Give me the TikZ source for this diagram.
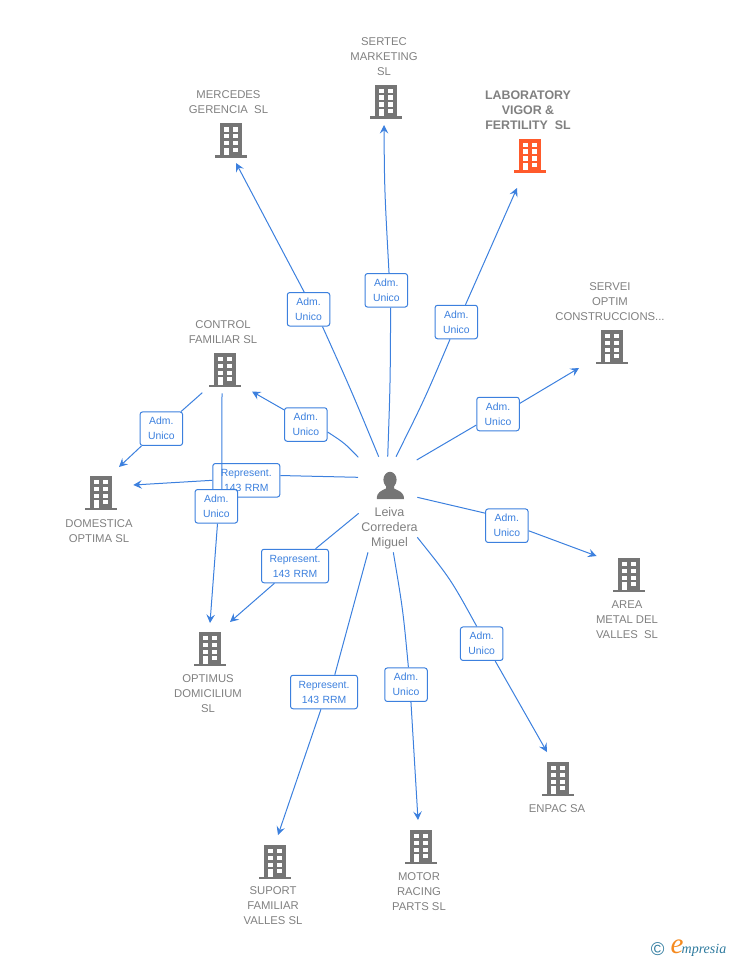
\documentclass[tikz,border=0pt]{standalone}
\usepackage{fontspec}
\setmainfont{Liberation Sans}
\newfontfamily\logofont{Liberation Serif}
\usetikzlibrary{arrows.meta}
\definecolor{edgeblue}{HTML}{3C80DE}
\definecolor{txtgray}{HTML}{808080}
\definecolor{iconcol}{HTML}{757575}
\definecolor{hotcol}{HTML}{FF5A2B}
\definecolor{logoblue}{HTML}{2E7A9E}
\definecolor{logoorange}{HTML}{F58A1F}
\pgfdeclarelayer{edges}\pgfdeclarelayer{rep}\pgfdeclarelayer{cross}
\pgfsetlayers{edges,rep,cross,main}
\newcommand{\admtxt}{Adm.\hspace*{3pt}\\Unico}
\newcommand{\reptxt}{Represent.\\143 RRM}
\tikzset{
  pics/bldg/.style={code={
    \fill[#1] (-11,-17) rectangle (11,14.5);
    \fill[#1] (-16,14.5) rectangle (16,17.2);
    \foreach \yy in {-13.2,-6.5,0.5}{
      \fill[white] (-6.8,\yy) rectangle (-2,\yy+4.3);
      \fill[white] (2.3,\yy) rectangle (7.2,\yy+4.3);
    }
    \fill[white] (-6.8,7.2) rectangle (-2,14.5);
    \fill[white] (2.3,7.2) rectangle (7.2,11.4);
  }},
  spot/.style={inner sep=0pt,minimum width=32pt,minimum height=35pt},
  coname/.style={text=txtgray,align=center,inner sep=0pt,font=\fontsize{11.3}{15}\selectfont},
  boldname/.style={coname,font=\fontsize{12.4}{15}\selectfont\bfseries},
  tagbox/.style={draw=edgeblue,fill=white,text=edgeblue,rounded corners=2.5pt,line width=1pt,
    align=center,inner sep=0pt,minimum width=42.5pt,minimum height=33.5pt,text width=42.5pt,
    font=\fontsize{10.4}{15}\selectfont},
  widetag/.style={tagbox,minimum width=67pt,text width=67pt},
  conn/.style={draw=edgeblue,line width=1pt},
  arr/.style={conn,-{Stealth[length=8.5pt,width=8.5pt,inset=3.2pt]}}
}
\begin{document}
\begin{tikzpicture}[x=1pt,y=-1pt]
\useasboundingbox (0,0) rectangle (728,960);
% company buildings
\node[spot] (mer) at (231,140.5) {}; \pic at (mer) {bldg=iconcol};
\node[spot] (ser) at (386,102) {}; \pic at (ser) {bldg=iconcol};
\node[spot] (lab) at (530,156) {}; \pic at (lab) {bldg=hotcol};
\node[spot] (svi) at (612,347) {}; \pic at (svi) {bldg=iconcol};
\node[spot] (ctl) at (225,370) {}; \pic at (ctl) {bldg=iconcol};
\node[spot] (dom) at (101,493) {}; \pic at (dom) {bldg=iconcol};
\node[spot] (are) at (629,575) {}; \pic at (are) {bldg=iconcol};
\node[spot] (opt) at (210,649) {}; \pic at (opt) {bldg=iconcol};
\node[spot] (enp) at (558,779) {}; \pic at (enp) {bldg=iconcol};
\node[spot] (mot) at (421,847) {}; \pic at (mot) {bldg=iconcol};
\node[spot] (sup) at (275,862) {}; \pic at (sup) {bldg=iconcol};
% company names
\node[coname] (merT) at (228.5,101.8) {MERCEDES\\GERENCIA\ \ SL};
\node[coname] (serT) at (384,56.7) {SERTEC\\MARKETING\\SL};
\node[boldname] (labT) at (528,110.7) {LABORATORY\\VIGOR \&\\FERTILITY\ \ SL};
\node[coname] (sviT) at (610,301.7) {SERVEI\\OPTIM\\CONSTRUCCIONS...};
\node[coname] (ctlT) at (223,331.8) {CONTROL\\FAMILIAR SL};
\node[coname] (domT) at (99,530.7) {DOMESTICA\\OPTIMA SL};
\node[coname] (areT) at (627,619.7) {AREA\\METAL DEL\\VALLES\ \ SL};
\node[coname] (optT) at (208,693.7) {OPTIMUS\\DOMICILIUM\\SL};
\node[coname] (enpT) at (557,808.7) {ENPAC SA};
\node[coname] (motT) at (419,891.7) {MOTOR\\RACING\\PARTS SL};
\node[coname] (supT) at (273,905.7) {SUPORT\\FAMILIAR\\VALLES SL};
% person
\node[inner sep=0pt,minimum width=30pt,minimum height=30pt] (per) at (390,486) {};
\fill[iconcol] (390,479.8) ellipse (6.6 and 8);
\fill[iconcol] (376.8,499) .. controls (376.8,492) and (381,491) .. (386,488.5)
  -- (386,484) -- (394,484) -- (394,488.5)
  .. controls (399,491) and (404,492) .. (404,499) -- cycle;
\node[coname,font=\fontsize{12.5}{15}\selectfont] (perT) at (389.5,528.5) {Leiva\\Corredera\\Miguel};
% tags
\node[tagbox] (t1) at (308.5,309.3) {\admtxt};
\node[tagbox] (t2) at (386.3,290.3) {\admtxt};
\node[tagbox] (t3) at (456.3,322) {\admtxt};
\node[tagbox] (t4) at (498,414) {\admtxt};
\node[tagbox] (t5) at (305.8,424.5) {\admtxt};
\node[tagbox] (t6) at (161.3,428.7) {\admtxt};
\begin{pgfonlayer}{rep}
\node[widetag] (t7) at (246.3,480.3) {\reptxt};
\end{pgfonlayer}
\node[tagbox] (t8) at (216.3,506.3) {\admtxt};
\node[widetag] (t9) at (295,566) {\reptxt};
\node[tagbox] (t10) at (506.8,525.7) {\admtxt};
\node[tagbox] (t11) at (481.7,643.7) {\admtxt};
\node[tagbox] (t12) at (406,684.7) {\admtxt};
\node[widetag] (t13) at (324,692) {\reptxt};
% free ends of connectors
\coordinate (s1) at (378.7,456.7);  \coordinate (e1) at (236,163);
\coordinate (s2) at (387.7,456.7);  \coordinate (e2) at (384,125);
\coordinate (s3) at (396,456.7);    \coordinate (e3) at (517,188);
\coordinate (s4) at (416.7,460);    \coordinate (e4) at (579,368);
\coordinate (s5) at (358.3,457.3);  \coordinate (e5) at (252,391.5);
\coordinate (s6) at (202.3,392.7);  \coordinate (e6) at (119,467);
\coordinate (s7) at (358,477.3);    \coordinate (e7) at (133.3,485);
\coordinate (s8) at (222,393.3);    \coordinate (e8) at (210,623);
\coordinate (s9) at (358.7,513.3);  \coordinate (e9) at (230,622);
\coordinate (s10) at (417.3,497.3); \coordinate (e10) at (596.5,556);
\coordinate (s11) at (417.3,537.3); \coordinate (e11) at (547,752);
\coordinate (s12) at (393.3,552.3); \coordinate (e12) at (418,820);
\coordinate (s13) at (368,552.3);   \coordinate (e13) at (278,835);
\begin{pgfonlayer}{edges}
\draw[conn] (s1) .. controls (351.5,391) .. (t1.-51.3);
\draw[arr] (t1.104.8) -- (e1);
\draw[conn] (s2) .. controls (390.3,382) .. (t2.-76.8);
\draw[arr] (t2.81) .. controls (384.5,190) .. (e2);
\draw[conn] (s3) .. controls (424.7,399) .. (t3.-110.3);
\draw[arr] (t3.62.1) -- (e3);
\draw[conn] (s4) -- (t4.-153.4);
\draw[arr] (t4.26.6) -- (e4);
\draw[conn] (s5) .. controls (344.5,443) .. (t5.-19.1);
\draw[arr] (t5.146.4) -- (e5);
\draw[conn] (s6) -- (t6.41);
\draw[arr] (t6.-139) -- (e6);
\draw[conn] (s7) .. controls (319,476) .. (t7.8.4);
\draw[arr] (t7.180) -- (e7);
\draw[conn] (s9) -- (t9.40.4);
\draw[arr] (t9.-140.3) -- (e9);
\draw[conn] (s10) -- (t10.150);
\draw[arr] (t10.-13.1) -- (e10);
\draw[conn] (s11) .. controls (450.8,579.2) .. (t11.106.4);
\draw[arr] (t11.-52) -- (e11);
\draw[conn] (s12) .. controls (403,610) .. (t12.82.3);
\draw[arr] (t12.-74.5) -- (e12);
\draw[conn] (s13) -- (t13.58);
\draw[arr] (t13.-100) -- (e13);
\end{pgfonlayer}
\begin{pgfonlayer}{cross}
\draw[conn] (s8) -- (t8.72.4);
\draw[arr] (t8.-86.6) -- (e8);
\end{pgfonlayer}
% logo
\node[text=logoblue,inner sep=0pt,font=\fontsize{18.5}{18.5}\selectfont] (cpr) at (657.7,949) {©};
\node[text=logoorange,inner sep=0pt,font=\logofont\itshape\fontsize{29}{29}\selectfont] (lge) at (677,946.5) {e};
\node[text=logoblue,inner sep=0pt,anchor=base west,font=\logofont\itshape\fontsize{14}{14}\selectfont] (lgt) at (681.5,953) {mpresia};
\end{tikzpicture}
\end{document}
